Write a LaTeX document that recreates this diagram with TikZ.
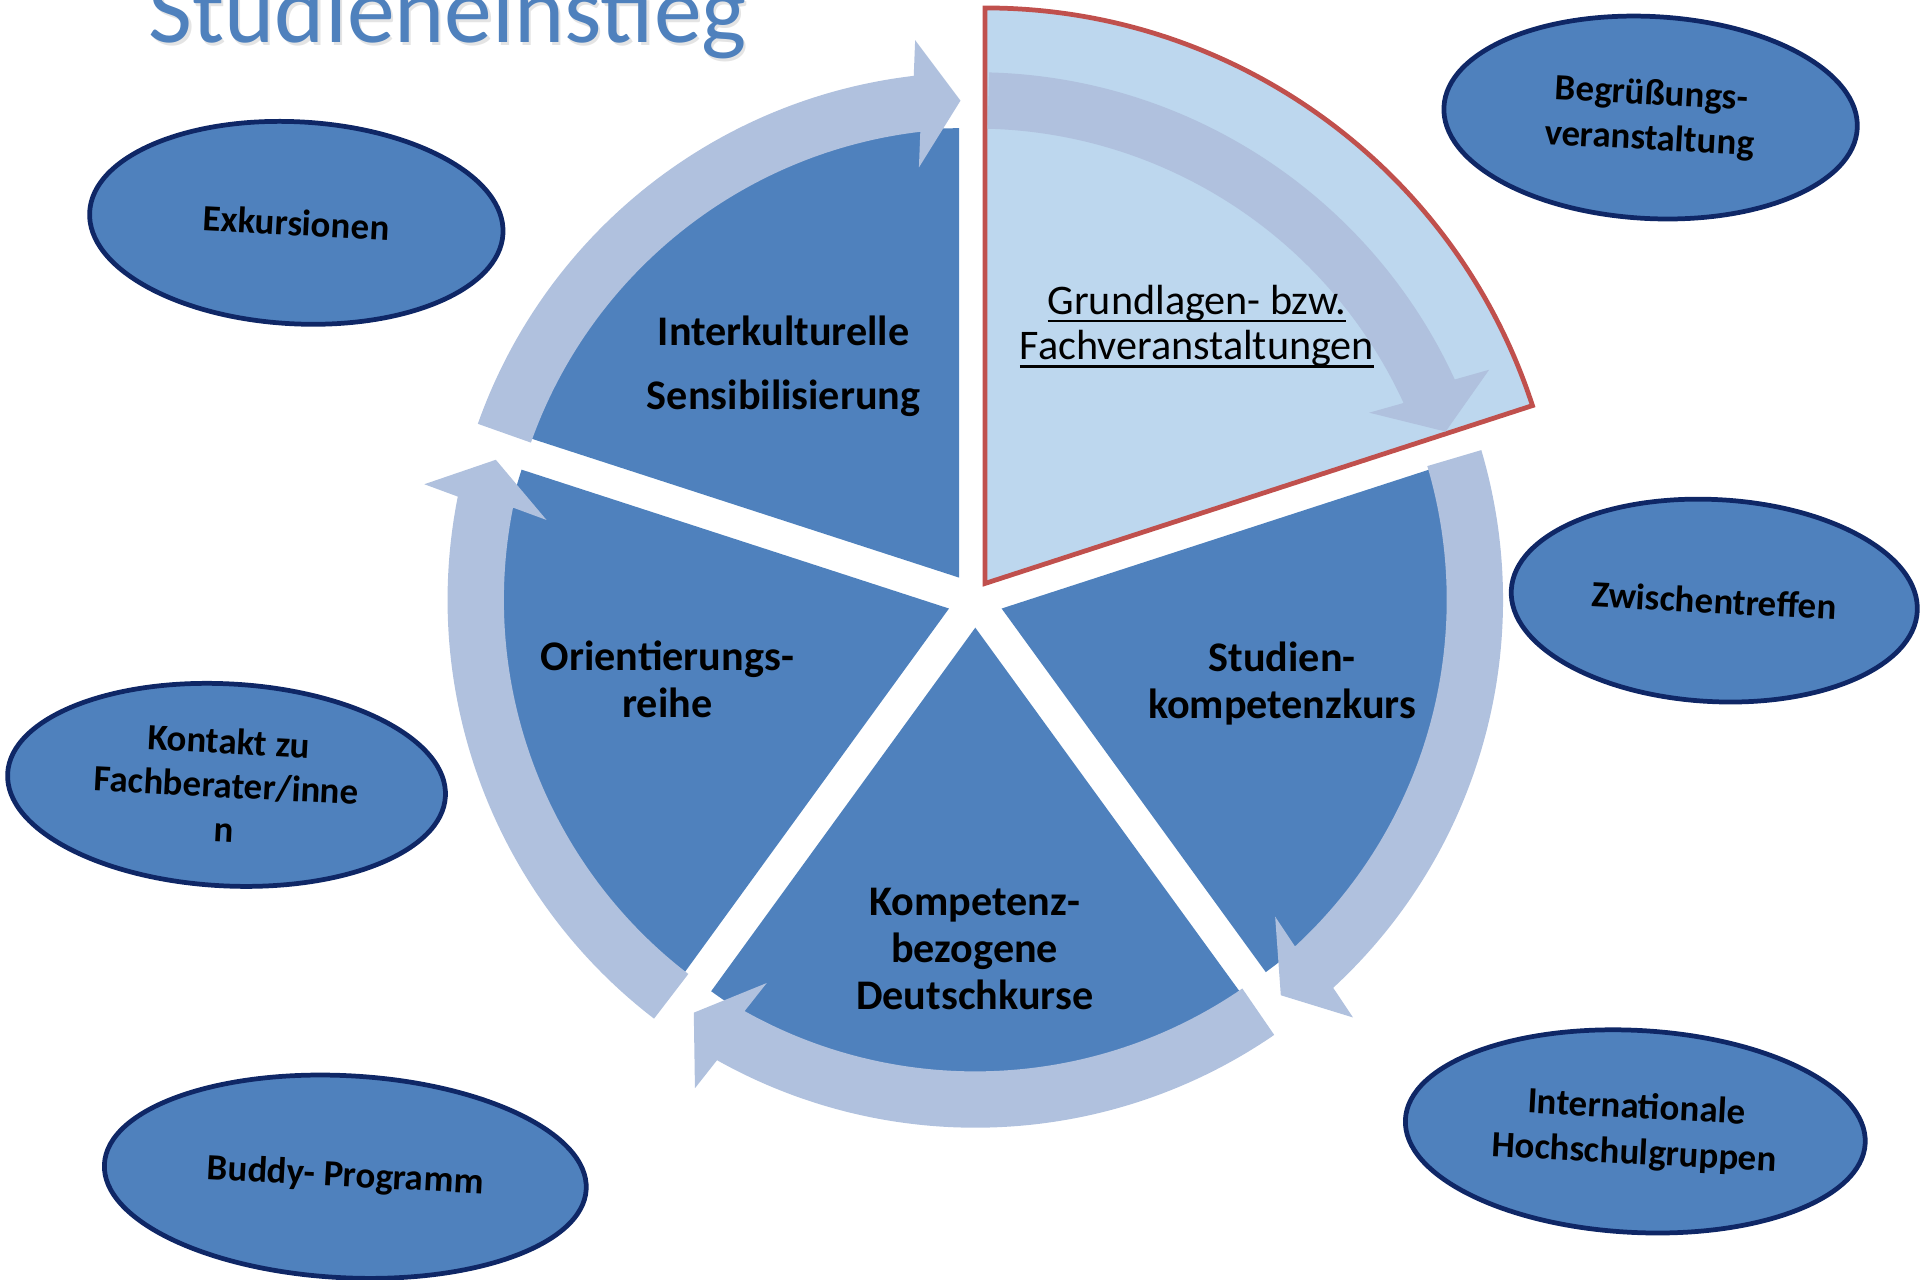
\documentclass[tikz,border=0pt]{standalone}
\usepackage{fontspec}
\setmainfont{Carlito}
\usetikzlibrary{calc,shapes.geometric}
\definecolor{secblue}{HTML}{4F81BD}
\definecolor{hilite}{HTML}{BDD7EE}
\definecolor{arrowc}{HTML}{B0C1DE}
\definecolor{redline}{HTML}{C0504D}
\definecolor{navy}{HTML}{0F2766}
\newcommand\pxu{0.12245mm}
\newcommand\myul[1]{\leavevmode\setbox0=\hbox{#1}\rlap{\rule[-2.3pt]{\wd0}{0.75pt}}\box0}
\newcommand\piesector[3]{%
  \pgfmathsetmacro\bis{(#2+#3)/2}
  \coordinate (#1) at ($(C)+(\bis:22.6)$);
  \fill[secblue] (#1) -- ++(#2:367) arc[start angle=#2, end angle=#3, radius=367] -- cycle;
}
\newcommand\cycarrow[2]{%
  \pgfmathsetmacro\aS{#2-1.5}
  \pgfmathsetmacro\aB{#2-65.3}
  \pgfmathsetmacro\aT{#2-70.3}
  \pgfmathsetmacro\aTo{#2-70.3+180}
  \coordinate (#1base) at ($(C)+(\aB:408)$);
  \coordinate (#1tip) at ($(C)+(\aT:408)$);
  \fill[arrowc] ($(C)+(\aS:431)$) arc[start angle=\aS, end angle=\aB, radius=431]
    -- ($(#1base)+(\aT:52)$) -- (#1tip) -- ($(#1base)+(\aTo:52)$)
    -- ($(C)+(\aB:385)$) arc[start angle=\aB, end angle=\aS, radius=385] -- cycle;
}
\begin{document}
\begin{tikzpicture}[x=\pxu,y=\pxu,
  pietext/.style={font=\bfseries\fontsize{12}{13.3}\selectfont, align=center, text=black, inner sep=0pt},
  bubble/.style={ellipse, fill=secblue, draw=navy, line width=1.35pt, inner sep=0pt, rotate=-3,
    font=\bfseries\fontsize{10.5}{12.9}\selectfont, align=center, text=black}]
\useasboundingbox (0,0) rectangle (1568,1045);
\clip (0,0) rectangle (1568,1045);
\coordinate (C) at (796.5,555);

% title
\node[anchor=base west, inner sep=0pt, font=\fontsize{27.2}{30}\selectfont, text=black!35, opacity=0.3] (titleshadow) at (122.8,1008) {Studieneinstieg};
\node[anchor=base west, inner sep=0pt, font=\fontsize{27.2}{30}\selectfont, text=secblue] (title) at (121,1010) {Studieneinstieg};

% pie sectors
\piesector{SInter}{90}{162}
\piesector{SStud}{-54}{18}
\piesector{SDeut}{-126}{-54}
\piesector{SOrie}{162}{234}
\coordinate (SGrund) at (804.5,568.5);
\filldraw[fill=hilite, draw=redline, line width=1.35pt, line join=miter] (SGrund) -- ++(18:470) arc[start angle=18, end angle=90, radius=470] -- cycle;

% circular arrows
\cycarrow{AInter}{162}
\cycarrow{AGrund}{90}
\cycarrow{AStud}{18}
\cycarrow{ADeut}{-54}
\cycarrow{AOrie}{-126}

% pie texts
\node[pietext, font=\bfseries\fontsize{12}{18.3}\selectfont] (tInter) at (640,746) {Interkulturelle\\Sensibilisierung};
\node[pietext, font=\fontsize{12}{13}\selectfont] (tGrund) at (977.5,778.5) {\myul{Grundlagen- bzw.}\\\myul{Fachveranstaltungen}};
\node[pietext] (tStud) at (1047,487) {Studien-\\kompetenzkurs};
\node[pietext] (tDeut) at (796,270) {Kompetenz-\\bezogene\\Deutschkurse};
\node[pietext] (tOrie) at (545,490) {Orientierungs-\\reihe};

% bubbles
\node[bubble, minimum width=338*\pxu, minimum height=165*\pxu] (eExk) at (242,863) {Exkursionen};
\node[bubble, minimum width=338*\pxu, minimum height=165*\pxu] (eBeg) at (1348,949) {Begrüßungs-\\veranstaltung};
\node[bubble, minimum width=332*\pxu, minimum height=165*\pxu] (eZw) at (1400,554.5) {Zwischentreffen};
\node[bubble, minimum width=376*\pxu, minimum height=165*\pxu] (eInt) at (1335.5,121) {Internationale\\Hochschulgruppen};
\node[bubble, minimum width=394*\pxu, minimum height=165*\pxu] (eBud) at (282,84) {Buddy- Programm};
\node[bubble, minimum width=358*\pxu, minimum height=165*\pxu, font=\bfseries\fontsize{10.5}{12.5}\selectfont] (eKon) at (185,404) {Kontakt zu\\Fachberater/inne\\n};
\end{tikzpicture}
\end{document}
